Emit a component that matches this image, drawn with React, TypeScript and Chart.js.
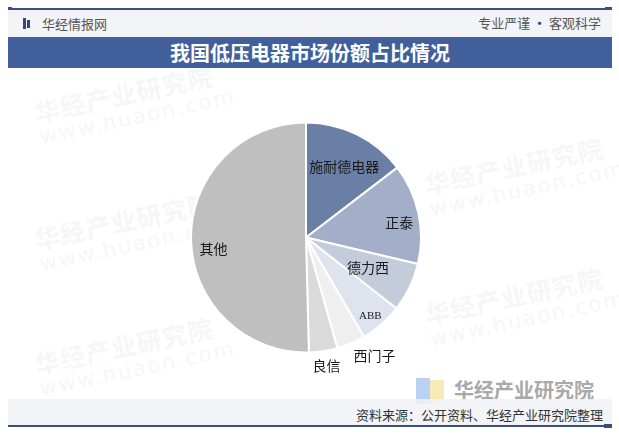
import React, { useEffect, useRef } from "react";
import { Chart, registerables } from "chart.js";

Chart.register(...registerables);

const categories = ["施耐德电器", "正泰", "德力西", "ABB", "西门子", "良信", "其他"];
const shares = [14.6, 14.1, 6.9, 6.0, 4.0, 4.0, 50.4];
const sliceColors = ["#6A7FA5", "#A3AFC9", "#C4CCDC", "#DEE3ED", "#EFEFEF", "#DADADA", "#BFBFBF"];

// label placement: angle offset from slice middle (deg) and radius fraction
const labelStyle = [
  { da: 2.1, rf: 0.7, font: "14px 'Noto Sans CJK SC'" },
  { da: 3.1, rf: 0.82, font: "14px 'Noto Sans CJK SC'" },
  { da: 0.2, rf: 0.6, font: "14px 'Noto Sans CJK SC'" },
  { da: 1.6, rf: 0.88, font: "11px 'Liberation Serif'" },
  { da: -7.0, rf: 1.19, font: "14px 'Noto Sans CJK SC'" },
  { da: -0.4, rf: 1.13, font: "14px 'Noto Sans CJK SC'" },
  { da: -6.0, rf: 0.81, font: "14px 'Noto Sans CJK SC'" },
];

const labelPlugin = {
  id: "sliceLabels",
  afterDatasetsDraw(chart: any) {
    const ctx = chart.ctx;
    const meta = chart.getDatasetMeta(0);
    meta.data.forEach((arc: any, i: number) => {
      const p = arc.getProps(["x", "y", "startAngle", "endAngle", "outerRadius"], true);
      const st = labelStyle[i];
      const a = (p.startAngle + p.endAngle) / 2 + (st.da * Math.PI) / 180;
      const r = p.outerRadius * st.rf;
      ctx.save();
      ctx.font = st.font;
      ctx.fillStyle = "#1a1a1a";
      ctx.textAlign = "center";
      ctx.textBaseline = "middle";
      ctx.fillText(categories[i], p.x + Math.cos(a) * r, p.y + Math.sin(a) * r);
      ctx.restore();
    });
  },
};

const wmSpots = [
  { left: 35, top: 78 },
  { left: 425, top: 150 },
  { left: 35, top: 205 },
  { left: 425, top: 280 },
  { left: 35, top: 330 },
];

export default function App() {
  const ref = useRef<HTMLCanvasElement>(null);
  useEffect(() => {
    if (!ref.current) return;
    const chart = new Chart(ref.current, {
      type: "pie",
      data: {
        labels: categories,
        datasets: [
          {
            data: shares,
            backgroundColor: sliceColors,
            borderColor: "#ffffff",
            borderWidth: 2,
          },
        ],
      },
      options: {
        responsive: false,
        animation: false,
        layout: { padding: { left: 190, right: 197, top: 121, bottom: 82 } },
        plugins: { legend: { display: false }, tooltip: { enabled: false } },
      },
      plugins: [labelPlugin],
    });
    return () => chart.destroy();
  }, []);

  const cjk = "'Noto Sans CJK SC', 'Noto Sans', sans-serif";
  return (
    <div style={{ position: "absolute", left: 0, top: 0, width: 619, height: 436, background: "#fff", overflow: "hidden", fontFamily: cjk }}>
      {/* watermarks */}
      {wmSpots.map((s, i) => (
        <div key={i} style={{ position: "absolute", left: s.left, top: s.top, transform: "rotate(-12deg)", opacity: 0.04, color: "#333", lineHeight: 1.1 }}>
          <div style={{ fontSize: 25, fontWeight: 700, letterSpacing: 1 }}>华经产业研究院</div>
          <div style={{ fontSize: 21, fontFamily: "'DejaVu Sans'", letterSpacing: 2 }}>www.huaon.com</div>
        </div>
      ))}
      {/* top line */}
      <div style={{ position: "absolute", left: 10, top: 8, width: 600, height: 2, background: "#3B4F7E" }} />
      <div style={{ position: "absolute", left: 605, top: 7, width: 7, height: 4, background: "#3B4F7E" }} />
      <div style={{ position: "absolute", left: 8, top: 7, width: 4, height: 4, background: "#3B4F7E" }} />
      {/* header band */}
      <div style={{ position: "absolute", left: 8, top: 10, width: 604, height: 27, background: "#F3F4F8" }} />
      <div style={{ position: "absolute", left: 23, top: 18, width: 3, height: 11, background: "#33477A" }} />
      <div style={{ position: "absolute", left: 27, top: 20, width: 3, height: 8, background: "#33477A" }} />
      <div style={{ position: "absolute", left: 42, top: 14, fontSize: 13, color: "#555", lineHeight: "20px" }}>华经情报网</div>
      <div style={{ position: "absolute", right: 18, top: 13, fontSize: 13, color: "#555", lineHeight: "20px" }}>
        专业严谨 <span style={{ color: "#33477A", fontWeight: 700 }}>•</span> 客观科学
      </div>
      {/* title bar */}
      <div style={{ position: "absolute", left: 8, top: 37, width: 604, height: 31, background: "#41609B", color: "#fff", fontSize: 20, fontWeight: 700, textAlign: "center", lineHeight: "31px", letterSpacing: 0 }}>
        我国低压电器市场份额占比情况
      </div>
      {/* bottom-right logo */}
      <div style={{ position: "absolute", left: 416, top: 378, width: 14, height: 26, background: "#A9C6F0", opacity: 0.8 }} />
      <div style={{ position: "absolute", left: 430, top: 380, width: 14, height: 24, background: "#F6E3A8", opacity: 0.8 }} />
      <div style={{ position: "absolute", left: 454, top: 376, fontSize: 20, fontWeight: 700, color: "#A9A9A9", lineHeight: "28px" }}>华经产业研究院</div>
      {/* footer band */}
      <div style={{ position: "absolute", left: 8, top: 399, width: 604, height: 26, background: "rgba(240,242,247,0.85)" }} />
      <div style={{ position: "absolute", right: 16, top: 405, fontSize: 13, color: "#333", lineHeight: "20px" }}>资料来源：公开资料、华经产业研究院整理</div>
      <div style={{ position: "absolute", left: 8, top: 425, width: 600, height: 2, background: "#3B4F7E" }} />
      <div style={{ position: "absolute", left: 604, top: 424, width: 8, height: 4, background: "#3B4F7E" }} />
      <canvas ref={ref} width={619} height={436} style={{ position: "absolute", left: 0, top: 0, width: 619, height: 436 }} />
    </div>
  );
}
